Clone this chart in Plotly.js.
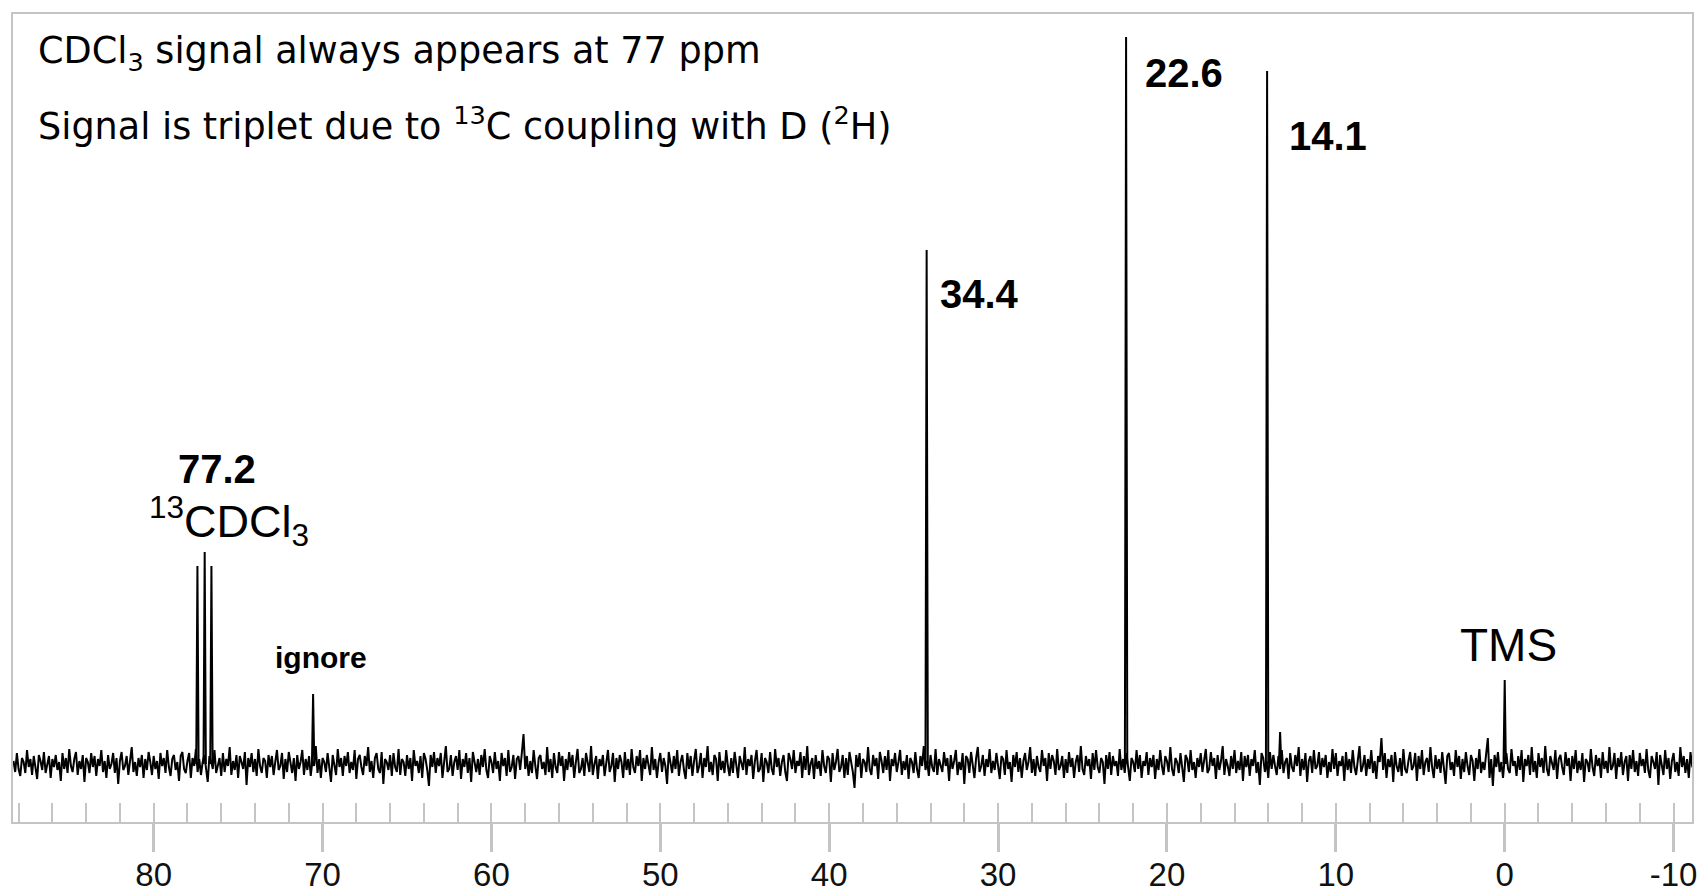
<!DOCTYPE html>
<html>
<head>
<meta charset="utf-8">
<script src="https://cdn.plot.ly/plotly-3.0.1.min.js"></script>
<style>html,body{margin:0;padding:0;background:#fff;}#chart{width:1700px;height:892px;}</style>
</head>
<body>
<div id="chart"></div>
<script>
// ---- data (chemical shift in ppm, intensity in arbitrary units) ----
const noiseStartPpm = 88.3;
const noiseStepPpm = 0.1;
const noise = [
 3,-8,11,-5,-12,6,2,-9,14,-3,5,-11,8,-2,-15,9,3,-6,12,-9,0,8,-14,5,-3,
 9,-6,2,-17,11,-5,6,-9,15,-2,-8,5,12,-11,3,-5,9,-18,6,2,-9,11,-3,8,-12,
 5,-2,14,-8,3,-14,9,-5,0,11,-9,6,-20,3,12,-6,-2,8,-11,5,17,-8,2,-12,6,
 -3,9,-14,5,-6,12,2,-11,8,-5,3,-15,11,-2,6,-9,14,-3,-12,5,9,-6,2,-17,8,
 12,-5,-9,3,11,-14,6,-2,15,-8,5,-11,2,9,-6,-18,8,3,-5,14,-9,0,6,-12,11,
 -8,5,-2,17,-11,3,-6,9,-14,8,2,-5,12,-21,6,-3,11,-8,5,-12,15,-2,-9,6,3,
 -14,9,-3,8,-11,2,14,-6,-2,11,-15,5,-8,12,3,-9,6,-17,9,-5,2,14,-11,5,-6,
 8,-12,3,-2,18,-9,5,-14,6,2,-8,11,-5,-18,9,0,-11,15,-3,6,-12,8,-2,12,-9,
 2,-6,14,-15,5,9,-3,-11,8,-2,17,-8,3,-14,6,11,-5,-9,12,-20,5,2,-6,9,-12,
 11,-3,-8,15,-11,5,2,-12,9,-5,6,-17,14,-2,3,-9,8,-14,11,5,-6,-22,9,-3,12,
 -9,6,-2,11,-14,3,18,-8,-5,9,-12,2,8,-6,14,-15,5,-3,11,-9,6,-18,12,2,-8,
 5,-11,9,-3,15,-6,-14,8,2,-9,12,-5,3,-17,11,-2,6,-12,14,-8,-3,9,-15,5,8,
 -6,11,30,-5,8,-12,3,-9,14,-2,-15,6,9,-5,2,-11,17,-8,5,-14,11,-3,-9,12,-2,
 8,-17,5,-6,12,-3,9,-14,2,15,-9,-5,6,-12,11,3,-8,18,-11,0,8,-15,5,-2,9,
 -12,3,14,-8,-2,11,-18,6,-5,9,2,-14,12,-6,5,-11,15,-3,-9,8,-2,14,-17,6,-5,
 9,-3,-11,17,-6,5,-14,2,11,-8,6,-2,-20,12,3,-9,8,-5,14,-12,2,9,-6,-15,11,
 -5,8,-12,3,15,-9,-2,11,-14,6,-3,18,-8,2,-11,9,5,-17,12,-6,3,-9,14,-2,-12,
 6,-9,12,-3,-14,8,2,-6,17,-11,5,-2,9,-15,3,14,-8,-5,11,-18,6,2,-9,12,-5,
 -11,15,-3,6,-12,2,9,-8,-17,11,5,-5,14,-9,3,-2,12,-14,8,-6,18,-11,0,6,-15,
 9,-5,3,-12,14,-2,-9,8,5,-18,11,-6,2,15,-8,-3,9,-14,6,-11,12,3,-8,-24,9,
 -3,11,-14,5,2,-8,17,-5,-11,9,-2,6,-15,12,3,-9,8,-6,14,-17,5,-2,11,-8,2,
 14,-11,3,-6,9,-15,6,2,-9,12,-5,-14,8,-2,18,-6,3,-12,9,-3,-8,15,-11,5,-2,
 -8,12,-2,6,-17,9,-5,3,14,-11,2,-6,11,-20,8,5,-9,12,-3,-14,6,17,-8,-2,9,
 -12,5,-3,15,-9,3,-6,11,-2,-15,8,5,-11,14,-5,2,-18,9,-3,12,-8,6,-14,3,11,
 -6,2,17,-9,5,-12,8,-3,-8,14,-2,6,-17,11,-5,9,3,-11,15,-6,-2,8,-14,5,-9,
 12,-3,6,-14,2,9,-8,18,-5,-11,8,-2,5,-15,11,-6,14,-3,-9,6,2,-20,9,-5,12,
 -11,8,-2,3,-12,15,-6,5,-9,11,-3,-17,6,2,-8,14,-5,9,-14,3,-2,12,-11,6,-3,
 9,-15,5,-6,14,-2,-11,8,3,-8,17,-5,-12,6,2,-9,11,-3,-18,9,5,-8,14,-6,2,
 -14,6,-3,11,-8,2,15,-9,-5,12,-2,6,-15,9,-6,3,18,-11,5,-2,-12,8,-5,14,-9,
 3,-6,12,-17,8,-3,9,-12,5,-2,14,-9,2,-21,11,6,-8,3,-14,12,-5,9,-2,-11,8,
 -5,14,-9,2,6,-15,11,-3,-8,9,-2,17,-12,5,-6,11,-18,3,8,-9,14,-5,-2,12,-11,
 6,-3,9,-14,2,-8,15,-5,11,-12,3,-2,8,-17,12,-6,5,-9,14,-3,-11,6,18,-8,-2,
 9,-12,5,-5,14,-9,3,-15,8,2,26,-6,11,-14,5,-3,9,-18,12,-2,-8,6,-12,15,-5,
 -9,3,12,-6,-2,11,-17,8,-5,14,-11,2,6,-8,17,-3,-14,9,-5,5,-9,12,-2,-20,8,
 11,-6,2,-12,14,-3,8,-15,5,-8,12,-2,-11,9,3,-17,6,-5,15,-9,2,-6,11,26,-14,
 5,-22,9,-3,12,-8,2,-14,6,11,-5,-9,15,-2,3,-12,8,-6,14,-18,5,-2,9,-11,17,
 -8,3,-14,11,-3,6,-9,18,-5,-12,8,2,-6,14,-15,5,9,-3,-11,12,-2,6,-17,8,-5,
 14,-9,3,-6,11,-18,5,2,-8,15,-3,-12,9,-2,6,-14,12,-5,3,-9,17,-6,-2,11,-15,
 6,-3,12,-11,2,8,-17,9,-5,14,-8,3,-12,11,-2,5,-9,15,-6,-14,8,2,-5,12,-21,
 9,-2,-11,14,-5,6,-15,3,11,-8,2,-12,17,-3,8,-9,5,-14,12,-2,-6,9,-17,5,0
];
const peakPpm    = [77.41, 76.98, 76.58, 70.56, 34.23, 22.42, 14.07, 13.30, 0.00];
const peakHeight = [198,   212,   198,   70,    514,   727,   693,   32,    84];

const tickValues = [80, 70, 60, 50, 40, 30, 20, 10, 0, -10];
const tickLabels = ['80', '70', '60', '50', '40', '30', '20', '10', '0', '-10'];

const labelTexts = ['<b>77.2</b>', '<sup>13</sup>CDCl<sub>3</sub>', '<b>ignore</b>', '<b>34.4</b>', '<b>22.6</b>', '<b>14.1</b>', 'TMS'];
const labelPpm   = [76.24, 80.37, 70.11, 33.56, 21.42, 12.89, -0.21];
const labelInt   = [295, 243, 107, 470, 691, 628, 119];

const noteLines = [
  'CDCl<sub>3</sub> signal always appears at 77 ppm',
  'Signal is triplet due to <sup>13</sup>C coupling with D (<sup>2</sup>H)'
];

// ---- build traces ----
const baseHalfWidth = 0.07;
const px = [], py = [];
for (let k = 0; k < peakPpm.length; k++) {
  px.push(peakPpm[k] + baseHalfWidth, peakPpm[k], peakPpm[k] - baseHalfWidth, null);
  py.push(0, peakHeight[k], 0, null);
}

const traces = [
  {
    type: 'scatter', mode: 'lines',
    x0: noiseStartPpm, dx: -noiseStepPpm, y: noise,
    line: {color: '#000', width: 2}, hoverinfo: 'skip'
  },
  {
    type: 'scatter', mode: 'lines', xaxis: 'x2',
    x: px, y: py, connectgaps: false,
    line: {color: '#000', width: 2}, hoverinfo: 'skip'
  }
];

const xRange = [88.33, -11.09];
const frame = '#c4c4c4';

const annotations = [];
const labelFonts = [
  {size: 40, fam: 'Liberation Sans, Arial, sans-serif', xa: 'center'},
  {size: 45, fam: 'Liberation Sans, Arial, sans-serif', xa: 'left'},
  {size: 30, fam: 'Liberation Sans, Arial, sans-serif', xa: 'center'},
  {size: 40, fam: 'Liberation Sans, Arial, sans-serif', xa: 'left'},
  {size: 40, fam: 'Liberation Sans, Arial, sans-serif', xa: 'left'},
  {size: 40, fam: 'Liberation Sans, Arial, sans-serif', xa: 'left'},
  {size: 46, fam: 'Liberation Sans, Arial, sans-serif', xa: 'center'}
];
for (let k = 0; k < labelTexts.length; k++) {
  annotations.push({
    x: labelPpm[k], y: labelInt[k], xref: 'x', yref: 'y',
    text: labelTexts[k], showarrow: false,
    xanchor: labelFonts[k].xa, yanchor: 'middle',
    font: {family: labelFonts[k].fam, size: labelFonts[k].size, color: '#000'}
  });
}
const noteY = [0.9517, 0.8639];
for (let k = 0; k < noteLines.length; k++) {
  annotations.push({
    x: 0.0137, y: noteY[k], xref: 'paper', yref: 'paper',
    text: noteLines[k], showarrow: false, xanchor: 'left', yanchor: 'middle',
    font: {family: 'DejaVu Sans, Verdana, sans-serif', size: 36.6, color: '#000'}
  });
}

const layout = {
  width: 1700, height: 892,
  margin: {l: 13, r: 8, t: 14, b: 70},
  paper_bgcolor: '#fff', plot_bgcolor: '#fff',
  showlegend: false,
  xaxis: {
    range: xRange, tickmode: 'array', tickvals: tickValues, ticktext: tickLabels,
    ticks: 'outside', ticklen: 28, tickwidth: 3, tickcolor: frame,
    ticklabelstandoff: -6,
    showline: true, linecolor: frame, linewidth: 2, mirror: true,
    showgrid: false, zeroline: false,
    tickfont: {family: 'Liberation Sans, Arial, sans-serif', size: 33, color: '#111'}
  },
  xaxis2: {
    range: xRange, overlaying: 'x', anchor: 'y', side: 'bottom',
    tickmode: 'linear', tick0: 0, dtick: 2,
    ticks: 'inside', ticklen: 19, tickwidth: 2, tickcolor: frame,
    showticklabels: false, showline: false, showgrid: false, zeroline: false
  },
  yaxis: {
    range: [-58, 750], showticklabels: false, ticks: '',
    showline: true, linecolor: frame, linewidth: 2, mirror: true,
    showgrid: false, zeroline: false
  },
  annotations: annotations
};

Plotly.newPlot('chart', traces, layout, {displayModeBar: false, staticPlot: true});
</script>
</body>
</html>
